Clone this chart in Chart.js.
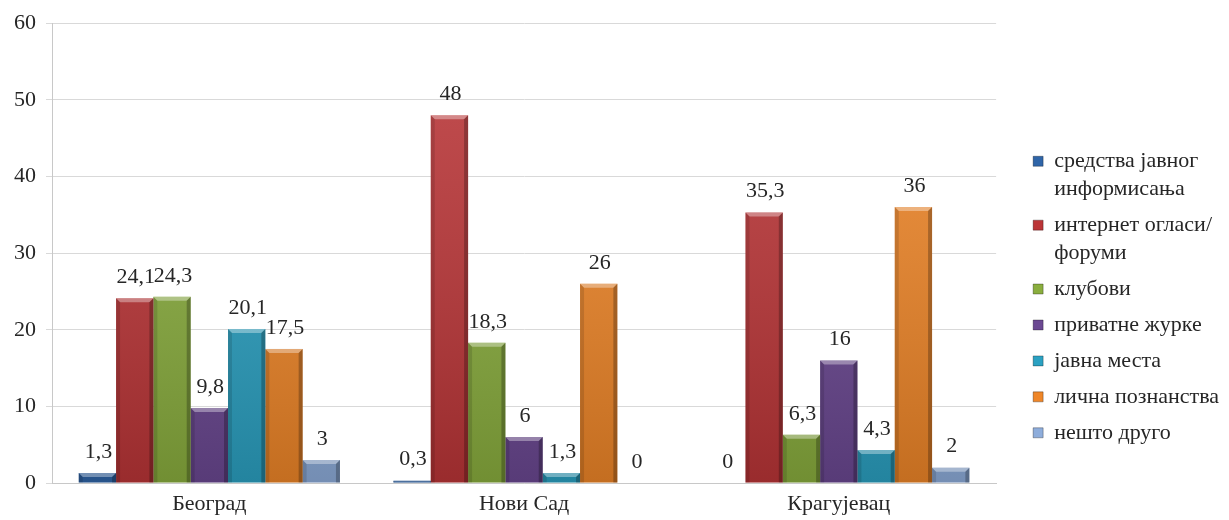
<!DOCTYPE html>
<html>
<head>
<meta charset="utf-8">
<script src="https://cdn.jsdelivr.net/npm/chart.js@4.4.1/dist/chart.umd.min.js"></script>
<style>
  html, body { margin: 0; padding: 0; background: #fff; }
  #wrap { width: 1229px; height: 520px; }
</style>
</head>
<body>
<div id="wrap"><canvas id="chart"></canvas></div>
<script>
const cities = ["Београд", "Нови Сад", "Крагујевац"];

const seriesNames = [
  "средства јавног\nинформисања",
  "интернет огласи/\nфоруми",
  "клубови",
  "приватне журке",
  "јавна места",
  "лична познанства",
  "нешто друго",
];

const media = [1.3, 0.3, 0];
const internet = [24.1, 48, 35.3];
const clubs = [24.3, 18.3, 6.3];
const parties = [9.8, 6, 16];
const publicPlaces = [20.1, 1.3, 4.3];
const acquaintances = [17.5, 26, 36];
const other = [3, 0, 2];

const yTicks = [0, 10, 20, 30, 40, 50, 60];

const colors = ["#2f65a8", "#bb3537", "#8aae3e", "#6b4892", "#2ba1c2", "#ef8628", "#8eaddb"];
const FONT = "'Liberation Serif', 'Times New Roman', serif";
const TEXT = "#262626";

// bevel + shading on top of each bar, plus value labels above
const barDecor = {
  id: "barDecor",
  afterDatasetsDraw(chart) {
    const ctx = chart.ctx;
    const area = chart.chartArea;
    ctx.save();
    chart.data.datasets.forEach((ds, di) => {
      const meta = chart.getDatasetMeta(di);
      meta.data.forEach((bar, i) => {
        const { x, y, base, width } = bar.getProps(["x", "y", "base", "width"], true);
        const l = x - width / 2, r = x + width / 2;
        const h = base - y;
        if (h > 0.5) {
          const g = ctx.createLinearGradient(0, area.top, 0, area.bottom);
          g.addColorStop(0, "rgba(255,255,255,0.12)");
          g.addColorStop(1, "rgba(0,0,0,0.18)");
          ctx.fillStyle = g;
          ctx.fillRect(l, y, width, h);
          const bev = Math.min(4, h / 2);
          // top bevel
          ctx.fillStyle = "rgba(255,255,255,0.35)";
          ctx.beginPath();
          ctx.moveTo(l, y);
          ctx.lineTo(r, y);
          ctx.lineTo(r - bev, y + bev);
          ctx.lineTo(l + bev, y + bev);
          ctx.closePath();
          ctx.fill();
          // right edge
          ctx.fillStyle = "rgba(0,0,0,0.25)";
          ctx.beginPath();
          ctx.moveTo(r, y);
          ctx.lineTo(r, base);
          ctx.lineTo(r - bev, base);
          ctx.lineTo(r - bev, y + bev);
          ctx.closePath();
          ctx.fill();
          // left edge
          ctx.fillStyle = "rgba(0,0,0,0.12)";
          ctx.beginPath();
          ctx.moveTo(l, y);
          ctx.lineTo(l + bev, y + bev);
          ctx.lineTo(l + bev, base);
          ctx.lineTo(l, base);
          ctx.closePath();
          ctx.fill();
        }
        const v = ds.data[i];
        ctx.fillStyle = TEXT;
        ctx.font = "22px " + FONT;
        ctx.textAlign = "center";
        ctx.textBaseline = "middle";
        ctx.fillText(String(v).replace(".", ","), x + 1, y - 21);
      });
    });
    ctx.restore();
  },
};

const seriesData = [media, internet, clubs, parties, publicPlaces, acquaintances, other];

const chart = new Chart(document.getElementById("chart"), {
  type: "bar",
  data: {
    labels: cities,
    datasets: seriesData.map((d, i) => ({
      label: seriesNames[i],
      data: d,
      backgroundColor: colors[i],
      borderWidth: 0,
      categoryPercentage: 0.83,
      barPercentage: 1,
    })),
  },
  options: {
    responsive: true,
    maintainAspectRatio: false,
    animation: false,
    layout: { padding: { top: 20, left: 4, right: 0, bottom: 0 } },
    plugins: {
      tooltip: { enabled: false },
      legend: {
        position: "right",
        title: { display: true, text: " ", font: { size: 10 }, padding: { top: 48, bottom: 0 } },
        labels: {
          font: { family: FONT, size: 22, lineHeight: 1.27 },
          color: TEXT,
          boxWidth: 10,
          boxHeight: 10,
          padding: 8,
          generateLabels(chart) {
            return Chart.defaults.plugins.legend.labels.generateLabels(chart).map((item) => ({
              ...item,
              text: seriesNames[item.datasetIndex].split("\n"),
              strokeStyle: "rgba(0,0,0,0.3)",
              lineWidth: 1,
            }));
          },
        },
      },
    },
    scales: {
      x: {
        grid: { display: false, drawTicks: false },
        border: { color: "#c8c8c8" },
        ticks: { color: TEXT, font: { family: FONT, size: 22 }, padding: 8 },
        afterFit(scale) {
          scale.height = 37;
        },
      },
      y: {
        min: 0,
        max: 60,
        afterBuildTicks(scale) {
          scale.ticks = yTicks.map((v) => ({ value: v }));
        },
        grid: { color: "#d9d9d9", tickLength: 6 },
        border: { color: "#c8c8c8" },
        ticks: { color: TEXT, font: { family: FONT, size: 22 }, padding: 10 },
      },
      // empty axis on the right, keeps a gap between the plot and the legend
      gap: {
        position: "right",
        display: true,
        grid: { display: false, drawTicks: false },
        border: { display: false },
        ticks: { display: false },
        afterFit(scale) {
          scale.width = 29;
        },
      },
    },
  },
  plugins: [barDecor],
});
</script>
</body>
</html>
